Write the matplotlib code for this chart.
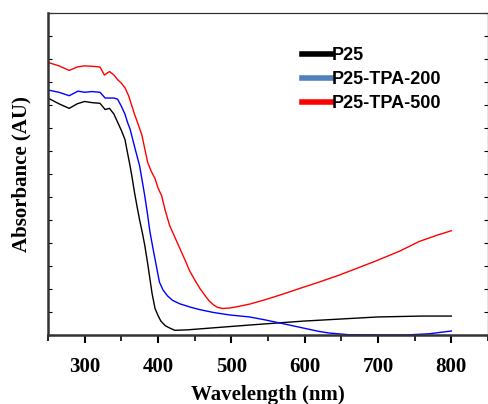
import matplotlib.pyplot as plt
from matplotlib.lines import Line2D

# wavelength (nm) / absorbance (a.u.)
wl_p25 = [250, 265, 279, 290, 300, 310, 321, 328, 334, 340, 345, 350, 355,
          358, 362, 365, 368, 372, 375, 379, 382, 386, 389, 392, 396, 400,
          404, 410, 416, 423, 440, 525, 598, 699, 760, 800]
ab_p25 = [10.30, 10.05, 9.85, 10.05, 10.15, 10.10, 10.07, 9.80, 9.85, 9.60,
          9.25, 8.90, 8.50, 8.00, 7.35, 6.80, 6.20, 5.50, 5.00, 4.40, 3.90,
          3.10, 2.45, 1.80, 1.15, 0.85, 0.60, 0.40, 0.30, 0.20, 0.22, 0.43,
          0.60, 0.78, 0.82, 0.82]

wl_200 = [250, 265, 279, 291, 300, 310, 321, 328, 334, 340, 345, 350, 355,
          359, 362, 368, 375, 378, 382, 386, 389, 393, 396, 399, 402, 407,
          413, 420, 430, 445, 457, 475, 497, 525, 545, 566, 598, 620, 634,
          660, 700, 740, 770, 800]
ab_200 = [10.65, 10.55, 10.40, 10.60, 10.55, 10.58, 10.55, 10.30, 10.30,
          10.30, 10.25, 9.95, 9.60, 9.20, 8.95, 8.20, 7.35, 6.80, 6.05, 5.20,
          4.50, 3.80, 3.30, 2.80, 2.30, 1.95, 1.70, 1.50, 1.35, 1.20, 1.10,
          0.98, 0.87, 0.78, 0.66, 0.52, 0.30, 0.15, 0.08, 0.01, 0.00, 0.00,
          0.05, 0.17]

wl_500 = [250, 265, 279, 290, 300, 310, 321, 327, 334, 340, 345, 350, 355,
          360, 364, 368, 372, 378, 382, 386, 391, 396, 400, 405, 410, 416,
          423, 430, 437, 443, 450, 457, 464, 470, 476, 481, 488, 498, 510,
          525, 545, 566, 598, 620, 647, 670, 699, 730, 756, 780, 800]
ab_500 = [11.85, 11.70, 11.50, 11.65, 11.70, 11.68, 11.65, 11.30, 11.45,
          11.30, 11.10, 10.95, 10.75, 10.40, 10.00, 9.60, 9.25, 8.70, 8.10,
          7.50, 7.10, 6.80, 6.40, 6.05, 5.40, 4.75, 4.25, 3.75, 3.25, 2.80,
          2.40, 2.03, 1.72, 1.47, 1.30, 1.20, 1.15, 1.17, 1.24, 1.34, 1.52,
          1.73, 2.07, 2.30, 2.60, 2.88, 3.24, 3.65, 4.06, 4.33, 4.53]

labels = ["P25", "P25-TPA-200", "P25-TPA-500"]
line_colors = ["black", "blue", "red"]
legend_colors = ["black", "#4F81BD", "red"]

fig = plt.figure(figsize=(4.89, 4.04), dpi=100)
ax = fig.add_axes([0.098, 0.171, 0.900, 0.797])

for x, y, c in zip([wl_p25, wl_200, wl_500], [ab_p25, ab_200, ab_500], line_colors):
    ax.plot(x, y, color=c, linewidth=1.0)

ax.set_xlim(250, 850)
ax.set_ylim(0, 14)
ax.set_xticks([300, 400, 500, 600, 700, 800])
ax.set_xticks(range(250, 851, 50), minor=True)
ax.set_yticks(range(0, 15))
ax.set_yticklabels([])

serif = {"family": "Liberation Serif", "weight": "bold"}
for lab in ax.get_xticklabels():
    lab.set_fontproperties("Liberation Serif")
    lab.set_fontweight("bold")
    lab.set_fontsize(15)
ax.set_xlabel("Wavelength (nm)", fontdict=serif, fontsize=15, labelpad=6)
ax.set_ylabel("Absorbance (AU)", fontdict=serif, fontsize=15, labelpad=8)

for side in ["left", "bottom"]:
    ax.spines[side].set_linewidth(1.8)
    ax.spines[side].set_color("#333333")
for side in ["top", "right"]:
    ax.spines[side].set_linewidth(0.9)
    ax.spines[side].set_color("#333333")

ax.tick_params(axis="x", which="major", direction="out", length=6, width=1.5,
               pad=10, top=False)
ax.tick_params(axis="x", which="minor", direction="out", length=4, width=1.2,
               top=False)
ax.tick_params(axis="y", which="major", direction="in", length=3, width=0.8,
               left=True, right=True)

handles = [Line2D([], [], color=c, linewidth=4) for c in legend_colors]
leg = ax.legend(handles, labels, loc="upper left", bbox_to_anchor=(0.54, 0.945),
                frameon=False, handlelength=1.6, handletextpad=0.08,
                labelspacing=0.4,
                prop={"family": "Liberation Sans", "weight": "bold", "size": 13})

fig.savefig("out.png", dpi=100)
